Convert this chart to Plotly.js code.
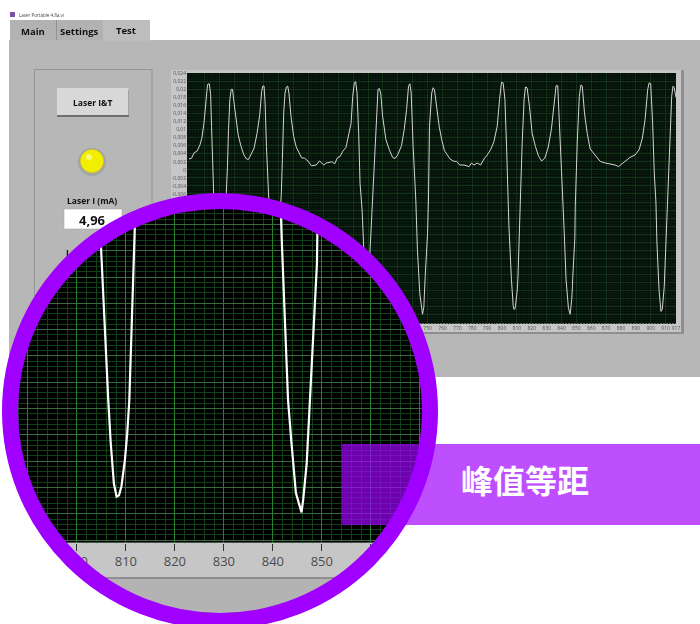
<!DOCTYPE html>
<html><head><meta charset="utf-8">
<script src="https://cdn.plot.ly/plotly-3.0.1.min.js"></script>
<style>
html,body{margin:0;padding:0;background:#fff;overflow:hidden}
#stage{position:relative;width:700px;height:624px}
#stage>div{position:absolute;left:0;top:0;width:700px;height:624px}
#inset{clip-path:circle(203px at 220px 411px)}
#main{filter:blur(0.4px)}
</style></head><body>
<div id="stage"><div id="main"></div><div id="inset"></div><div id="over"></div></div>
<script>
const sampleIndex = [589.6,591.4,593,595.2,597,598.3,599.7,601,602.1,603.3,604.2,604.8,605.5,606.2,608,609.5,610.4,611.3,613,614.9,615.5,616.2,617.1,618,618.9,619.8,621.1,622.7,624.5,626.5,628.3,629.6,631.2,633.4,635.4,637.2,638.5,639.2,640.1,640.8,641.7,643,645,646.4,647.2,648,649.6,651.7,652.4,653.3,654.2,655.1,656,656.8,658.2,660,661.7,664,665.3,667.3,669.6,672,675.1,677.4,680.3,681.9,683.6,685.6,687.6,689.4,691.2,693,695.2,697,698.6,699.7,700.8,701.7,702.6,703.7,704.6,706,707.5,708.3,708.9,709.6,711,712.7,714.2,715.8,716.7,717.6,718.5,719.8,722,724.3,726.5,728.1,729.9,732.5,734.3,735.9,737.2,738.1,739,740.3,742.1,743.2,744.8,746.6,747.5,748.4,750,750.6,751.3,752.8,753.7,754.6,755.5,757.8,759.5,761.3,763.3,765.1,767.8,769.6,771.6,774.5,777.9,779.6,781.2,783.4,785.7,787.9,790.1,792.4,794.6,796.8,798.4,799.7,800.8,802,803.1,804,804.7,806.4,806.9,807.55,808.1,808.6,809.1,809.8,810.27,810.7,811.8,812.2,813.6,814.9,815.8,816.9,818.5,820.3,822.5,824.7,826.7,828.8,831,833.2,834.8,836.4,837.5,838.6,839.9,841.3,841.8,843.1,843.8,844.7,845.85,846.2,846.9,847.4,847.5,849,849.3,850.6,852,853.1,854,855.5,857.3,859.3,861.6,863.8,866,869.4,872.7,876.1,878.3,880.6,882.8,886.1,889.5,892.2,894.4,896.2,898,898.9,900,901.3,902.4,903.5,904.2,905.6,906.9,907.8,909.1,910.3,911.1,912.5,914.1,915,915.8,917];
const signal = [0.0027,0.0029,0.0042,0.0047,0.0062,0.0079,0.0116,0.0175,0.0212,0.0214,0.0187,0.0108,0.0008,-0.0058,-0.02,-0.033,-0.0352,-0.033,-0.02,-0.0058,0.0008,0.01,0.0175,0.02,0.02,0.017,0.0125,0.0087,0.006,0.0037,0.0027,0.0026,0.0037,0.0054,0.0091,0.0137,0.0195,0.0208,0.0208,0.0166,0.0058,-0.0058,-0.02,-0.033,-0.035,-0.033,-0.02,-0.0058,0.0025,0.0141,0.0191,0.0206,0.0208,0.0191,0.0133,0.0083,0.0057,0.0042,0.003,0.0029,0.0022,0.001,0.0012,0.0022,0.0012,0.0017,0.0018,0.002,0.0015,0.003,0.0033,0.0046,0.0056,0.0087,0.0116,0.0183,0.0217,0.0219,0.0191,0.0091,-0.0033,-0.01,-0.024,-0.033,-0.035,-0.033,-0.022,-0.01,0.0025,0.0166,0.02,0.0202,0.0191,0.0133,0.0075,0.005,0.0031,0.0028,0.0037,0.006,0.01,0.015,0.0208,0.0214,0.0191,0.0058,-0.0075,-0.02,-0.0308,-0.0359,-0.0341,-0.0266,-0.0158,-0.0075,0.0108,0.0191,0.0204,0.02,0.0175,0.0108,0.0075,0.0048,0.0037,0.0027,0.0021,0.0021,0.0012,0.0012,0.0008,0.0017,0.0012,0.0017,0.0012,0.0027,0.0037,0.005,0.007,0.0108,0.0175,0.0218,0.0216,0.0175,0.0058,-0.005,-0.014,-0.02735,-0.0306,-0.0337,-0.0347,-0.0346,-0.0339,-0.0319,-0.0299,-0.02735,-0.014,-0.0091,0.0067,0.0175,0.0206,0.0204,0.0158,0.0091,0.0058,0.0033,0.0022,0.0029,0.0054,0.01,0.015,0.0209,0.0209,0.0125,-0.0008,-0.0091,-0.015,-0.02735,-0.0306,-0.0344,-0.0359,-0.0349,-0.0322,-0.0288,-0.02735,-0.017,-0.0091,0.0067,0.0183,0.0211,0.0208,0.0141,0.0091,0.0052,0.0042,0.0032,0.0021,0.0017,0.0014,0.0012,0.0008,0.0015,0.0022,0.0031,0.0037,0.005,0.0079,0.0125,0.02,0.0216,0.0214,0.0116,-0.0008,-0.008,-0.0182,-0.0299,-0.0352,-0.0346,-0.029,-0.0174,-0.0091,0.0067,0.0183,0.0208,0.0204,0.018];
const xTicks = [600,610,620,630,640,650,660,670,680,690,700,710,720,730,740,750,760,770,780,790,800,810,820,830,840,850,860,870,880,890,900,910,917];
const yTicks = [0.024,0.022,0.02,0.018,0.016,0.014,0.012,0.01,0.008,0.006,0.004,0.002,0,-0.002,-0.004,-0.006,-0.008,-0.01,-0.012,-0.014,-0.016,-0.018,-0.02,-0.022,-0.024,-0.026,-0.028,-0.03,-0.032,-0.034,-0.036];
const yTickLabels = ["0,024","0,022","0,02","0,018","0,016","0,014","0,012","0,01","0,008","0,006","0,004","0,002","0","-0,002","-0,004","-0,006","-0,008","-0,01","-0,012","-0,014","-0,016","-0,018","-0,02","-0,022","-0,024","-0,026","-0,028","-0,03","-0,032","-0,034","-0,036"];
const insetTicks = [790,800,810,820,830,840,850,860,870];
const tabNames = ["Main","Settings","Test"];

const W=700,H=624;
const px=x=>x/W, py=y=>1-y/H;
const rect=(x0,y0,x1,y1,fill,line,lw,layer)=>({type:'rect',xref:'paper',yref:'paper',x0:px(x0),x1:px(x1),y0:py(y1),y1:py(y0),fillcolor:fill,line:{color:line||fill,width:lw===undefined?0:lw},layer:layer||'below'});
const circ=(cx,cy,r,fill,line,lw,layer)=>({type:'circle',xref:'paper',yref:'paper',x0:px(cx-r),x1:px(cx+r),y0:py(cy+r),y1:py(cy-r),fillcolor:fill,line:{color:line||fill,width:lw||0},layer:layer||'below'});
const label=(x,y,text,size,color,weight,family)=>({xref:'paper',yref:'paper',x:px(x),y:py(y),text:weight?'<b>'+text+'</b>':text,showarrow:false,xanchor:'center',yanchor:'middle',font:{size:size,color:color||'#222',family:family||'"Open Sans",sans-serif'}});
const cfg={staticPlot:true,displayModeBar:false};

const mainShapes=[
  rect(9,40,700,377,'#b7b7b7'),
  rect(10,20,103,40,'#b2b2b2'),
  rect(56,20,56.7,40,'#858585'),
  rect(103,20,150,41,'#bdbdbd'),
  rect(10,12,15,17,'#7a4fa8'),
  rect(34.5,69.5,152,330,'rgba(0,0,0,0)','#8c8c8c',0.8),
  rect(57,90,129,117,'#6f6f6f'),
  rect(57,88,128.5,115,'#d8d8d8'),
  circ(92,162,14,'#a4a4a4'),
  circ(92,161,11.5,'#f2ee00','#d9d400',0.6),
  circ(89,157,3,'#fbf97a'),
  rect(64,209,122,229,'#ffffff','#a8a8a8',0.6),
  rect(171,70,681,332,'#c6c6c6'),
  rect(681,70,684,334,'#8e8e8e'),
  rect(171,332,684,334,'#8e8e8e'),
  rect(187,73,676,323.5,'#040c07')
];
const mainAnn=[
  {xref:'paper',yref:'paper',x:px(17),y:py(14.5),xanchor:'left',yanchor:'middle',showarrow:false,text:'Laser Portable 4.8a.vi',font:{size:4.5,color:'#444',family:'"Open Sans",sans-serif'}},
  label(33,31,tabNames[0],9.5,'#111',true),
  label(79.5,31,tabNames[1],9.5,'#111',true),
  label(126,30,tabNames[2],9.5,'#111',true),
  label(92,102.5,'Laser I&amp;T',8.5,'#111',true),
  label(92,201,'Laser I (mA)',8.5,'#111',true),
  label(92,220,'4,96',13,'#111',true),
  label(68,252,'L',8.5,'#111',true)
];
Plotly.newPlot('main',[{x:sampleIndex,y:signal,type:'scatter',mode:'lines',line:{color:'#d4d4d4',width:1},hoverinfo:'skip'}],{
  width:W,height:H,margin:{l:0,r:0,t:0,b:0},paper_bgcolor:'#ffffff',plot_bgcolor:'rgba(0,0,0,0)',showlegend:false,
  xaxis:{domain:[px(187),px(676)],range:[588.3,917],tickmode:'array',tickvals:xTicks,ticktext:xTicks.map(String),tickangle:0,ticks:'',tickfont:{size:5,color:'#555',family:'"Open Sans",sans-serif'},showgrid:true,gridcolor:'#133318',gridwidth:1,zeroline:false,showline:false,
    minor:{tickmode:'linear',tick0:0,dtick:2,showgrid:true,gridcolor:'#091a0e',gridwidth:1,ticks:''}},
  yaxis:{domain:[py(323.5),py(73)],range:[-0.0382,0.02407],tickmode:'array',tickvals:yTicks,ticktext:yTickLabels,ticks:'',tickfont:{size:5,color:'#555',family:'"Open Sans",sans-serif'},showgrid:true,gridcolor:'#133318',gridwidth:1,zeroline:false,showline:false,
    minor:{tickmode:'linear',tick0:0,dtick:0.0004,showgrid:true,gridcolor:'#09180d',gridwidth:1,ticks:''}},
  shapes:mainShapes,annotations:mainAnn
},cfg);

Plotly.newPlot('inset',[{x:sampleIndex,y:signal,type:'scatter',mode:'lines',line:{color:'#ffffff',width:2.2},hoverinfo:'skip'}],{
  width:W,height:H,margin:{l:0,r:0,t:0,b:0},paper_bgcolor:'#b3b3b3',plot_bgcolor:'rgba(0,0,0,0)',showlegend:false,
  xaxis:{domain:[0,1],range:[784.3,927.2],tickmode:'array',tickvals:insetTicks,ticktext:insetTicks.map(String),tickangle:0,ticks:'outside',ticklen:7,tickwidth:1,tickcolor:'#333',tickfont:{size:13,color:'#4c4c4c',family:'"Open Sans",sans-serif'},showgrid:true,gridcolor:'#25842b',gridwidth:1,zeroline:false,showline:false,
    minor:{tickmode:'linear',tick0:0,dtick:2,showgrid:true,gridcolor:'#11401a',gridwidth:1,ticks:''}},
  yaxis:{domain:[py(542.7),1],range:[-0.0382,0.00307],tickmode:'linear',tick0:0,dtick:0.002,showticklabels:false,ticks:'',showgrid:true,gridcolor:'#3a6a40',gridwidth:1,zeroline:false,showline:false,
    minor:{tickmode:'linear',tick0:0,dtick:0.0004,showgrid:true,gridcolor:'#11401a',gridwidth:1,ticks:''}},
  shapes:[rect(0,0,700,542.7,'#000000'),rect(0,542.7,700,577,'#c6c6c6'),rect(0,577,700,579,'#8e8e8e')]
},cfg);

Plotly.newPlot('over',[],{
  width:W,height:H,margin:{l:0,r:0,t:0,b:0},paper_bgcolor:'rgba(0,0,0,0)',plot_bgcolor:'rgba(0,0,0,0)',showlegend:false,
  xaxis:{visible:false},yaxis:{visible:false},
  shapes:[
    circ(220,411,210,'rgba(0,0,0,0)','#a000ff',16,'above'),
    rect(342,444,700,525,'rgba(160,0,255,0.69)',undefined,0,'above')
  ],
  annotations:[label(525,479,'峰值等距',32,'#ffffff',true,'"Noto Sans CJK SC"')]
},cfg);
</script>
</body></html>
